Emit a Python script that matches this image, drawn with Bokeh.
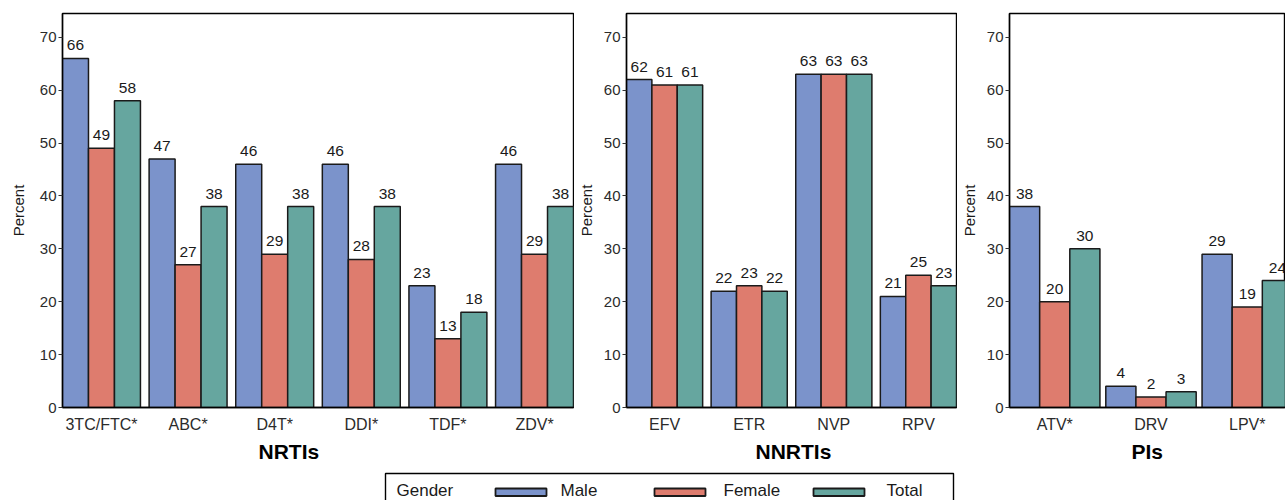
from bokeh.plotting import figure
from bokeh.models import Range1d, FixedTicker, ColumnDataSource, Title
from bokeh.layouts import row, column
from bokeh.transform import dodge
from bokeh.embed import file_html
from bokeh.resources import INLINE
from bokeh.core.properties import value

# ---------------- data ----------------
series = ["Male", "Female", "Total"]
legend_title = "Gender"

nrti_drugs = ["3TC/FTC*", "ABC*", "D4T*", "DDI*", "TDF*", "ZDV*"]
nrti_male = [66, 47, 46, 46, 23, 46]
nrti_female = [49, 27, 29, 28, 13, 29]
nrti_total = [58, 38, 38, 38, 18, 38]

nnrti_drugs = ["EFV", "ETR", "NVP", "RPV"]
nnrti_male = [62, 22, 63, 21]
nnrti_female = [61, 23, 63, 25]
nnrti_total = [61, 22, 63, 23]

pi_drugs = ["ATV*", "DRV", "LPV*"]
pi_male = [38, 4, 29]
pi_female = [20, 2, 19]
pi_total = [30, 3, 24]

y_ticks = [0, 10, 20, 30, 40, 50, 60, 70]

# ---------------- style ----------------
colors = ["#7B93CB", "#DE7C6E", "#66A69F"]
FONT = "Liberation Sans"
TXT = "#1a1a1a"
TICK = "#2b2b2b"
ROW_H = 466
FRAME_TOP = 13
FRAME_BOTTOM = 59


def make_panel(name, drugs, male, female, total, width, b_left, b_right,
               x_start, x_end, bar_w, title_offset, ylab_standoff):
    src = ColumnDataSource(dict(
        x=list(range(len(drugs))),
        Male=male, Female=female, Total=total,
        Male_l=[str(v) for v in male],
        Female_l=[str(v) for v in female],
        Total_l=[str(v) for v in total],
    ))
    p = figure(width=width, height=ROW_H, output_backend="svg",
               toolbar_location=None,
               x_range=Range1d(x_start, x_end), y_range=Range1d(0, 74.5),
               min_border_left=b_left, min_border_right=b_right,
               min_border_top=FRAME_TOP, min_border_bottom=FRAME_BOTTOM)
    p.background_fill_color = "white"
    p.border_fill_color = "white"
    p.outline_line_color = "black"
    p.outline_line_width = 1.4
    p.xgrid.visible = False
    p.ygrid.visible = False

    for i, s in enumerate(series):
        off = (i - 1) * bar_w
        p.vbar(x=dodge("x", off, range=p.x_range), top=s, width=bar_w,
               source=src, fill_color=colors[i], line_color="#1a1a1a",
               line_width=1.5)
        p.text(x=dodge("x", off, range=p.x_range), y=s, text=s + "_l",
               source=src, text_align="center", text_baseline="bottom",
               y_offset=-8, text_font=value(FONT), text_font_size="15.5px",
               text_color=TXT)

    # y axis
    ya = p.yaxis[0]
    ya.ticker = FixedTicker(ticks=y_ticks)
    ya.minor_tick_line_color = None
    ya.major_tick_in = 0
    ya.major_tick_out = 4
    ya.major_label_standoff = 2
    ya.major_label_text_font = FONT
    ya.major_label_text_font_size = "15px"
    ya.major_label_text_color = TICK
    ya.axis_line_color = "black"
    ya.axis_line_width = 1.4
    ya.major_tick_line_color = "#333333"
    ya.axis_label = "Percent"
    ya.axis_label_text_font = FONT
    ya.axis_label_text_font_size = "15px"
    ya.axis_label_text_font_style = "normal"
    ya.axis_label_text_color = TXT
    ya.axis_label_standoff = ylab_standoff

    # x axis
    xa = p.xaxis[0]
    xa.ticker = FixedTicker(ticks=list(range(len(drugs))))
    xa.major_label_overrides = {i: d for i, d in enumerate(drugs)}
    xa.minor_tick_line_color = None
    xa.major_tick_in = 0
    xa.major_tick_out = 0
    xa.major_tick_line_color = None
    xa.major_label_standoff = 8
    xa.major_label_text_font = FONT
    xa.major_label_text_font_size = "16px"
    xa.major_label_text_color = TICK
    xa.axis_line_color = "black"
    xa.axis_line_width = 1.4

    p.add_layout(Title(text=name, align="left", offset=title_offset,
                       text_font=FONT, text_font_size="21px",
                       text_font_style="bold", text_color="black",
                       standoff=4), "below")
    return p


p1 = make_panel("NRTIs", nrti_drugs, nrti_male, nrti_female, nrti_total,
                574, 62, 1, -0.45, len(nrti_drugs) - 1 + 0.45, 0.3, 196, 10)
p2 = make_panel("NNRTIs", nnrti_drugs, nnrti_male, nnrti_female, nnrti_total,
                383, 46, 1, -0.45, len(nnrti_drugs) - 1 + 0.45, 0.3, 129, 6)
p3 = make_panel("PIs", pi_drugs, pi_male, pi_female, pi_total,
                328, 47, 0, -0.47, -0.47 + 281 / 98.0, 0.313, 122, 6)

# ---------------- legend strip ----------------
LW, LH = 1285, 34
lg = figure(width=LW, height=LH, output_backend="svg", toolbar_location=None,
            x_range=Range1d(0, LW), y_range=Range1d(0, LH),
            x_axis_type=None, y_axis_type=None,
            min_border_left=0, min_border_right=0,
            min_border_top=0, min_border_bottom=0)
lg.outline_line_color = None
lg.xgrid.visible = False
lg.ygrid.visible = False
lg.background_fill_color = "white"
lg.border_fill_color = "white"

box_l, box_r, box_t = 385, 953, 27
lg.quad(left=[box_l], right=[box_r], top=[box_t], bottom=[-10],
        fill_color=None, line_color="black", line_width=1.4)
lg.text(x=[396], y=[10], text=[legend_title], text_baseline="middle",
        text_font=value(FONT), text_font_size="17px", text_color=TXT)
key_x0, key_step, key_w = 495, 159, 51
label_gaps = [14, 18, 22]
kl = [key_x0 + i * key_step for i in range(len(series))]
lg.quad(left=kl, right=[k + key_w for k in kl], top=[12] * 3,
        bottom=[4.5] * 3, fill_color=colors, line_color="#1a1a1a",
        line_width=1.8)
lg.text(x=[k + key_w + g for k, g in zip(kl, label_gaps)], y=[10] * 3,
        text=series, text_baseline="middle", text_font=value(FONT),
        text_font_size="17px", text_color=TXT)

layout = column(row(p1, p2, p3), lg)

open("out.html", "w").write(file_html(layout, INLINE))
